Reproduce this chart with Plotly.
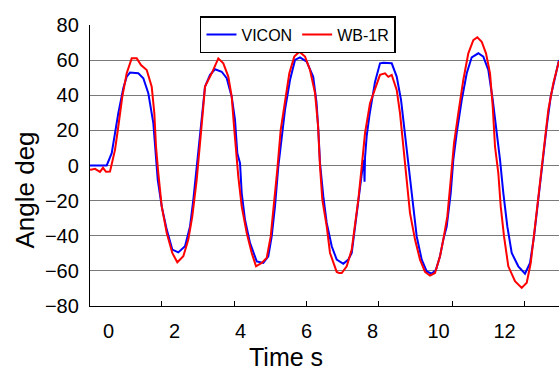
import plotly.graph_objects as go

# ---- data ----
vicon_t = [-0.564, -0.058, 0.094, 0.294, 0.445, 0.548, 0.648, 0.900, 1.052, 1.203,
           1.355, 1.436, 1.488, 1.609, 1.761, 1.930, 2.112, 2.315, 2.467, 2.567,
           2.670, 2.800, 2.900, 2.921, 3.073, 3.224, 3.427, 3.579, 3.730, 3.830,
           3.900, 3.982, 4.033, 4.133, 4.285, 4.488, 4.688, 4.839, 4.942, 5.042,
           5.142, 5.245, 5.345, 5.497, 5.648, 5.800, 6.003, 6.200, 6.300, 6.355,
           6.406, 6.506, 6.609, 6.761, 6.912, 7.112, 7.264, 7.367, 7.415, 7.467,
           7.518, 7.597, 7.679, 7.739, 7.755, 7.770, 7.821, 7.906, 8.073, 8.224,
           8.324, 8.579, 8.730, 8.861, 8.982, 9.082, 9.203, 9.336, 9.488, 9.639,
           9.791, 9.921, 10.042, 10.142, 10.245, 10.367, 10.445, 10.548, 10.700, 10.852,
           11.003, 11.203, 11.355, 11.506, 11.640, 11.761, 11.861, 11.961, 12.082, 12.215,
           12.415, 12.618, 12.770, 12.891, 12.991, 13.124, 13.276, 13.397, 13.527, 13.648]
vicon_y = [0.0, 0.0, 7.0, 29.8, 44.0, 50.6, 52.9, 52.5, 49.7, 41.2,
           24.1, 7.0, -8.1, -23.3, -36.5, -47.9, -49.5, -46.0, -34.7, -19.5,
           -0.6, 20.3, 41.2, 44.9, 51.6, 54.8, 53.4, 49.7, 39.2, 26.0,
           7.0, 1.4, -15.7, -30.9, -44.1, -54.6, -55.5, -51.7, -40.4, -23.3,
           -0.6, 14.6, 31.7, 48.7, 60.1, 61.6, 59.1, 50.5, 36.0, 20.3,
           1.4, -17.6, -32.7, -46.0, -53.6, -56.0, -53.6, -49.8, -42.2, -34.7,
           -29.0, -15.7, -3.6, 3.2, -9.3, 4.4, 16.9, 28.8, 47.6, 58.2,
           58.5, 58.2, 50.6, 37.3, 18.4, -0.6, -19.5, -40.4, -53.6, -60.3,
           -61.6, -59.3, -51.7, -42.2, -34.7, -15.7, 3.2, 18.4, 37.3, 52.5,
           61.6, 63.9, 62.0, 54.4, 37.3, 20.3, 3.2, -15.7, -34.7, -49.8,
           -57.4, -61.6, -55.5, -40.4, -23.3, -0.6, 22.2, 39.2, 50.6, 60.1]

wb_t = [-0.564, -0.533, -0.412, -0.261, -0.170, -0.079, 0.042, 0.194, 0.294, 0.415,
        0.548, 0.700, 0.852, 0.982, 1.155, 1.306, 1.385, 1.436, 1.506, 1.609,
        1.761, 1.930, 2.082, 2.264, 2.415, 2.536, 2.670, 2.770, 2.870, 2.921,
        3.124, 3.324, 3.476, 3.627, 3.730, 3.809, 3.861, 3.930, 4.033, 4.185,
        4.336, 4.467, 4.639, 4.791, 4.912, 5.012, 5.112, 5.215, 5.345, 5.476,
        5.627, 5.779, 5.952, 6.103, 6.255, 6.345, 6.406, 6.476, 6.609, 6.709,
        6.912, 6.982, 7.064, 7.215, 7.367, 7.467, 7.567, 7.670, 7.770, 7.921,
        8.073, 8.224, 8.376, 8.476, 8.579, 8.730, 8.830, 8.930, 9.033, 9.133,
        9.285, 9.436, 9.588, 9.739, 9.891, 10.042, 10.142, 10.264, 10.367, 10.467,
        10.597, 10.748, 10.900, 11.052, 11.173, 11.306, 11.436, 11.558, 11.640, 11.709,
        11.809, 11.882, 11.982, 12.112, 12.315, 12.518, 12.670, 12.791, 12.921, 13.052,
        13.173, 13.324, 13.476, 13.627, 13.648]
wb_y = [-2.2, -2.4, -1.9, -3.6, -1.3, -3.6, -3.4, 8.9, 22.2, 39.2,
        52.5, 61.0, 61.0, 57.2, 54.4, 44.9, 29.8, 10.8, -4.3, -23.3,
        -38.4, -49.8, -55.1, -51.7, -42.2, -29.0, -8.1, 10.8, 33.5, 44.9,
        52.5, 61.0, 58.2, 50.6, 39.2, 20.3, 7.0, -6.3, -23.3, -38.4,
        -49.8, -57.4, -55.5, -52.6, -40.4, -23.3, -2.4, 20.3, 35.5, 52.5,
        62.0, 64.8, 62.0, 54.4, 41.2, 23.1, -0.6, -19.5, -34.7, -49.8,
        -60.6, -61.2, -61.2, -57.4, -47.9, -34.7, -19.5, -0.6, 18.4, 35.5,
        43.0, 51.6, 52.5, 50.5, 51.6, 43.0, 29.8, 10.8, -8.1, -27.1,
        -42.2, -53.6, -60.6, -62.7, -61.2, -51.7, -42.2, -29.0, -8.1, 12.7,
        29.8, 48.7, 63.9, 71.4, 73.0, 70.5, 63.9, 52.5, 33.5, 10.8,
        -4.3, -23.3, -40.4, -57.4, -65.9, -69.7, -66.8, -55.5, -34.7, -11.9,
        7.0, 31.7, 46.8, 58.2, 59.5]

x_tick_vals = [0, 2, 4, 6, 8, 10, 12]
x_tick_text = ["0", "2", "4", "6", "8", "10", "12"]
x_tick_marks = [1.609, 3.809, 6.003, 8.185, 10.406, 12.588]
y_tick_vals = [-80, -60, -40, -20, 0, 20, 40, 60, 80]

FONT = "Liberation Sans, Arial, sans-serif"

fig = go.Figure()
fig.add_trace(go.Scatter(x=vicon_t, y=vicon_y, mode="lines", name="VICON",
                         line=dict(color="#0000FF", width=2)))
fig.add_trace(go.Scatter(x=wb_t, y=wb_y, mode="lines", name="WB-1R",
                         line=dict(color="#FF0000", width=2)))

fig.update_layout(
    width=559, height=370,
    margin=dict(l=90, r=0, t=25, b=64, autoexpand=False),
    paper_bgcolor="white", plot_bgcolor="white",
    font=dict(family=FONT, color="black"),
    showlegend=True,
    legend=dict(orientation="h", x=0.2345, y=1.032, xanchor="left", yanchor="top",
                bgcolor="white", bordercolor="black", borderwidth=1.5,
                font=dict(size=16, family=FONT), itemwidth=30),
    xaxis=dict(range=[-0.564, 13.648], tickmode="array", tickvals=x_tick_vals,
               ticktext=x_tick_text, ticks="", showgrid=False, zeroline=False,
               showline=True, linecolor="black", linewidth=1.3,
               tickfont=dict(size=20, family=FONT), ticklabelstandoff=7,
               minor=dict(tickmode="array", tickvals=x_tick_marks, ticks="inside",
                          ticklen=5, tickcolor="black", tickwidth=1, showgrid=False)),
    yaxis=dict(range=[-80, 80], tickmode="array", tickvals=y_tick_vals, ticks="",
               showgrid=True, gridcolor="#7a7a7a", gridwidth=1, zeroline=False,
               showline=True, linecolor="black", linewidth=1.3,
               tickfont=dict(size=20, family=FONT), ticklabelstandoff=6),
    annotations=[
        dict(text="Angle deg", xref="paper", yref="paper", x=-0.1407, y=0.411,
             textangle=-90, showarrow=False, font=dict(size=26, family=FONT),
             xanchor="center", yanchor="middle"),
        dict(text="Time s", xref="paper", yref="paper", x=0.418, y=-0.1825,
             showarrow=False, font=dict(size=25, family=FONT),
             xanchor="center", yanchor="middle"),
    ],
)

fig.write_html("out.html", config={"displayModeBar": False},
               post_script="document.body.style.margin='0';")
